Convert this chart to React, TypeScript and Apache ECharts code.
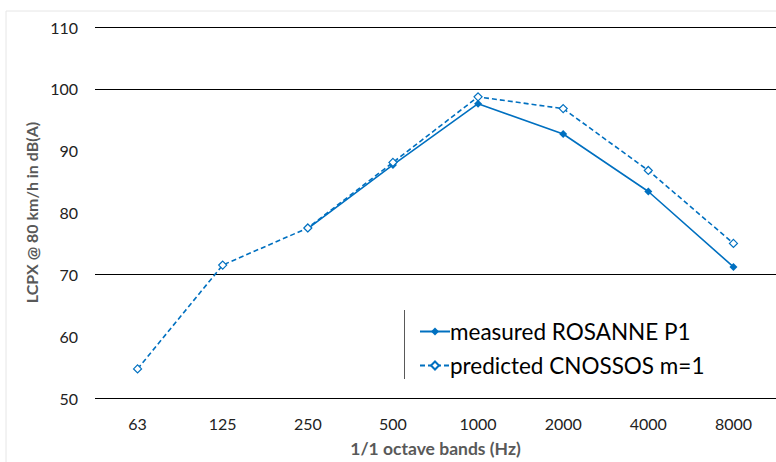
import React, { useEffect, useRef } from "react";
import * as echarts from "echarts";

const categories = ["63", "125", "250", "500", "1000", "2000", "4000", "8000"];
const measured: (number | null)[] = [null, null, 77.4, 87.7, 97.6, 92.7, 83.4, 71.2];
const predicted = [54.7, 71.5, 77.5, 88.1, 98.7, 96.8, 86.8, 75.0];
const gridValues = [110, 100, 70, 50];

const BLUE = "#0070C0";
const FONT = "Lato, 'Liberation Sans', sans-serif";

export default function App() {
  const ref = useRef<HTMLDivElement>(null);
  useEffect(() => {
    const chart = echarts.init(ref.current!, undefined, { renderer: "svg" });
    chart.setOption({
      animation: false,
      textStyle: { fontFamily: FONT },
      grid: { left: 95, right: 0, top: 27, bottom: 63, containLabel: false },
      xAxis: {
        type: "category",
        data: categories,
        boundaryGap: true,
        axisLine: { show: false },
        axisTick: { show: false },
        axisLabel: { color: "#222", fontSize: 16, margin: 17, fontFamily: FONT },
        name: "1/1 octave bands (Hz)",
        nameLocation: "middle",
        nameGap: 41,
        nameTextStyle: { color: "#595959", fontSize: 17.5, fontWeight: "bold", fontFamily: FONT },
      },
      yAxis: {
        type: "value",
        min: 50,
        max: 110,
        interval: 10,
        axisLine: { show: false },
        axisTick: { show: false },
        splitLine: { show: false },
        axisLabel: { color: "#222", fontSize: 16, margin: 17, fontFamily: FONT },
        name: "LCPX @ 80 km/h in dB(A)",
        nameLocation: "middle",
        nameGap: 52,
        nameTextStyle: { color: "#595959", fontSize: 16, fontWeight: "bold", fontFamily: FONT },
      },
      legend: {
        orient: "vertical",
        left: 414,
        top: 315,
        itemWidth: 30,
        itemHeight: 10,
        itemGap: 11,
        textStyle: { fontSize: 22.5, color: "#000", fontFamily: FONT, padding: [0, 0, 0, -5] },
        data: ["measured ROSANNE P1", "predicted CNOSSOS m=1"],
      },
      graphic: [
        {
          type: "rect",
          shape: { x: 6, y: 11, width: 800, height: 460 },
          style: { fill: "none", stroke: "#e6e6e6", lineWidth: 1 },
          silent: true,
        },
        {
          type: "line",
          shape: { x1: 404.5, y1: 310, x2: 404.5, y2: 379 },
          style: { stroke: "#595959", lineWidth: 1 },
          silent: true,
        },
      ],
      series: [
        {
          name: "predicted CNOSSOS m=1",
          type: "line",
          data: predicted,
          symbol: "diamond",
          symbolSize: 8,
          itemStyle: { color: "#fff", borderColor: BLUE, borderWidth: 1.2 },
          lineStyle: { color: BLUE, width: 1.6, type: [5, 3] },
          z: 3,
          markLine: {
            silent: true,
            symbol: "none",
            label: { show: false },
            lineStyle: { color: "#000", width: 1, type: "solid" },
            data: gridValues.map((v) => ({ yAxis: v })),
            z: 1,
          },
        },
        {
          name: "measured ROSANNE P1",
          type: "line",
          data: measured,
          symbol: "diamond",
          symbolSize: 8,
          itemStyle: { color: BLUE },
          lineStyle: { color: BLUE, width: 1.6 },
          z: 2,
        },
      ],
    });
    return () => chart.dispose();
  }, []);
  return <div ref={ref} style={{ width: 776, height: 462, position: "absolute", left: 0, top: 0 }} />;
}
